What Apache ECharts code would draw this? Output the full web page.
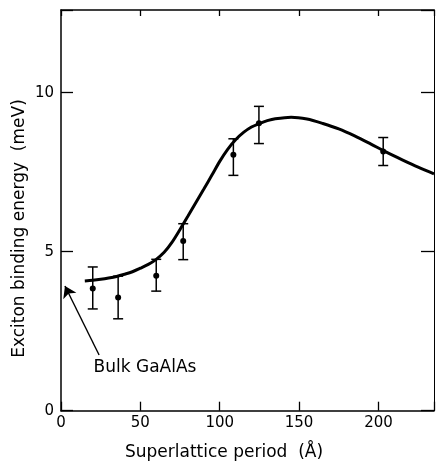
<!DOCTYPE html>
<html>
<head>
<meta charset="utf-8">
<script src="https://cdn.jsdelivr.net/npm/echarts@6/dist/echarts.min.js"></script>
<style>html,body{margin:0;padding:0;background:#fff;}#c{width:437px;height:464px;}</style>
</head>
<body>
<div id="c"></div>
<script>
// Measured points (superlattice period in Å, binding energy in meV)
const periods   = [20, 36, 60, 77, 108.6, 124.7, 203];
const energies  = [3.84, 3.56, 4.24, 5.34, 8.05, 9.04, 8.15];
const errLow    = [3.20, 2.89, 3.76, 4.75, 7.40, 8.40, 7.71];
const errHigh   = [4.52, 4.23, 4.76, 5.88, 8.55, 9.57, 8.59];
// Theoretical curve
const curveX = [15, 20, 25, 30, 35, 40, 45, 50, 55, 60, 65, 70, 75, 80, 85, 90, 95, 100, 105, 110, 115, 120, 125, 130, 135, 145, 155, 165, 175, 185, 195, 205, 215, 225, 235];
const curveY = [4.08, 4.10, 4.13, 4.17, 4.22, 4.29, 4.37, 4.48, 4.60, 4.76, 4.98, 5.30, 5.70, 6.12, 6.55, 6.97, 7.40, 7.84, 8.22, 8.52, 8.75, 8.92, 9.03, 9.12, 9.18, 9.23, 9.17, 9.03, 8.86, 8.64, 8.39, 8.13, 7.89, 7.66, 7.45];
// Axis ticks
const xTicks = [0, 50, 100, 150, 200];
const yTicks = [0, 5, 10];
// Annotation
const noteText = 'Bulk GaAlAs';
const notePos = [20.2, 1.37];
const arrowFrom = [24, 1.75];
const arrowTo = [2.5, 3.92];

const FONT = 'DejaVu Sans';
const chart = echarts.init(document.getElementById('c'), null, {renderer: 'canvas'});

const xBase = {
  type: 'value', min: 0, max: 235, interval: 50,
  splitLine: {show: false},
  axisLine: {show: true, onZero: false, lineStyle: {color: '#000', width: 1.5}},
};
const yBase = {
  type: 'value', min: 0, max: 12.6, interval: 5,
  splitLine: {show: false},
  axisLine: {show: true, onZero: false, lineStyle: {color: '#000', width: 1.5}},
};

const option = {
  animation: false,
  backgroundColor: '#fff',
  grid: {left: 61, top: 10, right: 0.5, bottom: 53.3, containLabel: false},
  xAxis: [
    Object.assign({}, xBase, {
      position: 'bottom',
      axisTick: {show: true, inside: true, length: 9, lineStyle: {color: '#000', width: 1.3}},
      axisLabel: {
        show: true, color: '#000', fontFamily: FONT, fontSize: 15, margin: 5,
        formatter: v => xTicks.indexOf(v) >= 0 ? String(v) : ''
      }
    }),
    Object.assign({}, xBase, {
      position: 'top',
      axisTick: {show: true, inside: true, length: 6, lineStyle: {color: '#000', width: 1.3}},
      axisLabel: {show: false}
    })
  ],
  yAxis: [
    Object.assign({}, yBase, {
      position: 'left',
      axisTick: {show: true, inside: true, length: 12, lineStyle: {color: '#000', width: 1.3}},
      axisLabel: {
        show: true, color: '#000', fontFamily: FONT, fontSize: 15, margin: 7,
        formatter: v => yTicks.indexOf(v) >= 0 ? String(v) : ''
      }
    }),
    Object.assign({}, yBase, {
      position: 'right',
      axisLine: {show: true, onZero: false, lineStyle: {color: '#000', width: 1}},
      axisTick: {show: true, inside: true, length: 13, lineStyle: {color: '#000', width: 1.3}},
      axisLabel: {show: false}
    })
  ],
  graphic: [
    {
      type: 'text', x: 224, y: 453,
      style: {text: 'Superlattice period  (Å)', font: '17px "' + FONT + '"', fill: '#000',
        textAlign: 'center', textVerticalAlign: 'middle'}
    },
    {
      type: 'text', x: 20, y: 228.5, rotation: Math.PI / 2,
      style: {text: 'Exciton binding energy  (meV)', font: '17px "' + FONT + '"', fill: '#000',
        textAlign: 'center', textVerticalAlign: 'middle'}
    }
  ],
  series: [
    {
      type: 'line', name: 'theory',
      data: curveX.map((x, i) => [x, curveY[i]]),
      smooth: 0.3, showSymbol: false, symbol: 'none',
      lineStyle: {color: '#000', width: 3},
      z: 3,
      markLine: {
        silent: true, animation: false,
        symbol: ['none', 'arrow'], symbolSize: 11,
        lineStyle: {color: '#000', width: 1.4, type: 'solid'},
        label: {show: false},
        emphasis: {disabled: true},
        data: [[{coord: arrowFrom}, {coord: arrowTo}]]
      }
    },
    {
      type: 'custom', name: 'errors',
      data: periods.map((x, i) => [x, errLow[i], errHigh[i]]),
      renderItem: function (params, api) {
        const lo = api.coord([api.value(0), api.value(1)]);
        const hi = api.coord([api.value(0), api.value(2)]);
        const w = 5;
        const st = {stroke: '#000', lineWidth: 1.5};
        return {
          type: 'group',
          children: [
            {type: 'line', shape: {x1: lo[0], y1: lo[1], x2: hi[0], y2: hi[1]}, style: st},
            {type: 'line', shape: {x1: lo[0] - w, y1: lo[1], x2: lo[0] + w, y2: lo[1]}, style: st},
            {type: 'line', shape: {x1: hi[0] - w, y1: hi[1], x2: hi[0] + w, y2: hi[1]}, style: st}
          ]
        };
      },
      z: 2
    },
    {
      type: 'scatter', name: 'data',
      data: periods.map((x, i) => [x, energies[i]]),
      symbol: 'circle', symbolSize: 6,
      itemStyle: {color: '#000', opacity: 1},
      z: 4
    },
    {
      type: 'scatter', name: 'note',
      data: [notePos],
      symbolSize: 1,
      itemStyle: {color: 'rgba(0,0,0,0)'},
      label: {show: true, position: 'right', distance: 0, formatter: noteText,
        color: '#000', opacity: 1, fontWeight: 'normal', fontFamily: FONT, fontSize: 17},
      z: 5
    }
  ]
};
chart.setOption(option);
</script>
</body>
</html>
